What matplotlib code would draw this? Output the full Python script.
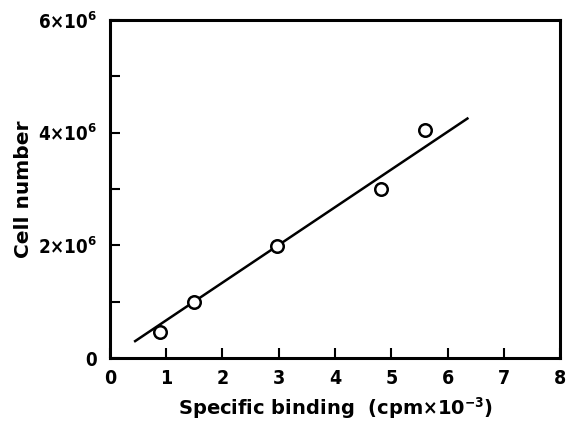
import matplotlib
matplotlib.use("Agg")
import matplotlib.pyplot as plt
from matplotlib.ticker import MultipleLocator

# data
binding = [0.90, 1.50, 2.97, 4.81, 5.59]          # cpm x 10^-3
cells = [0.46e6, 0.99e6, 1.99e6, 3.00e6, 4.04e6]
fit_x = [0.45, 6.35]
fit_y = [0.30e6, 4.25e6]

x_ticks = [0, 1, 2, 3, 4, 5, 6, 7, 8]
y_ticks = [0, 2e6, 4e6, 6e6]
y_labels = ["0", r"2$\times$10$^{6}$", r"4$\times$10$^{6}$", r"6$\times$10$^{6}$"]

plt.rcParams["font.family"] = ["DejaVu Sans"]
plt.rcParams["font.stretch"] = "condensed"
plt.rcParams["mathtext.default"] = "bf"

fig = plt.figure(figsize=(5.66, 4.42), dpi=100)
ax = fig.add_axes([0.194, 0.190, 0.796, 0.765])

ax.plot(fit_x, fit_y, color="black", lw=1.8, zorder=2)
ax.plot(binding, cells, "o", ms=9, mfc="white", mec="black", mew=1.8, zorder=3)

ax.set_xlim(0, 8)
ax.set_ylim(0, 6e6)
ax.set_xticks(x_ticks)
ax.set_xticklabels([str(t) for t in x_ticks], fontsize=14, fontweight="bold")
ax.set_yticks(y_ticks)
ax.set_yticklabels(y_labels, fontsize=13.5, fontweight="bold")
ax.yaxis.set_minor_locator(MultipleLocator(1e6))
ax.tick_params(which="both", direction="in", width=1.5, colors="black")
ax.tick_params(which="major", length=7)
ax.tick_params(which="minor", length=7)
ax.tick_params(axis="x", which="major", pad=8)
ax.tick_params(axis="y", which="major", pad=9)

for s in ax.spines.values():
    s.set_linewidth(2.2)

ax.set_ylabel("Cell number", fontsize=14.5, fontweight="bold",
              fontstretch="normal", labelpad=4)
ax.set_xlabel(r"Specific binding  (cpm$\times$10$^{-3}$)", fontsize=14,
              fontweight="bold", fontstretch="normal", labelpad=5)

fig.savefig("out.png", dpi=100, facecolor="white")
